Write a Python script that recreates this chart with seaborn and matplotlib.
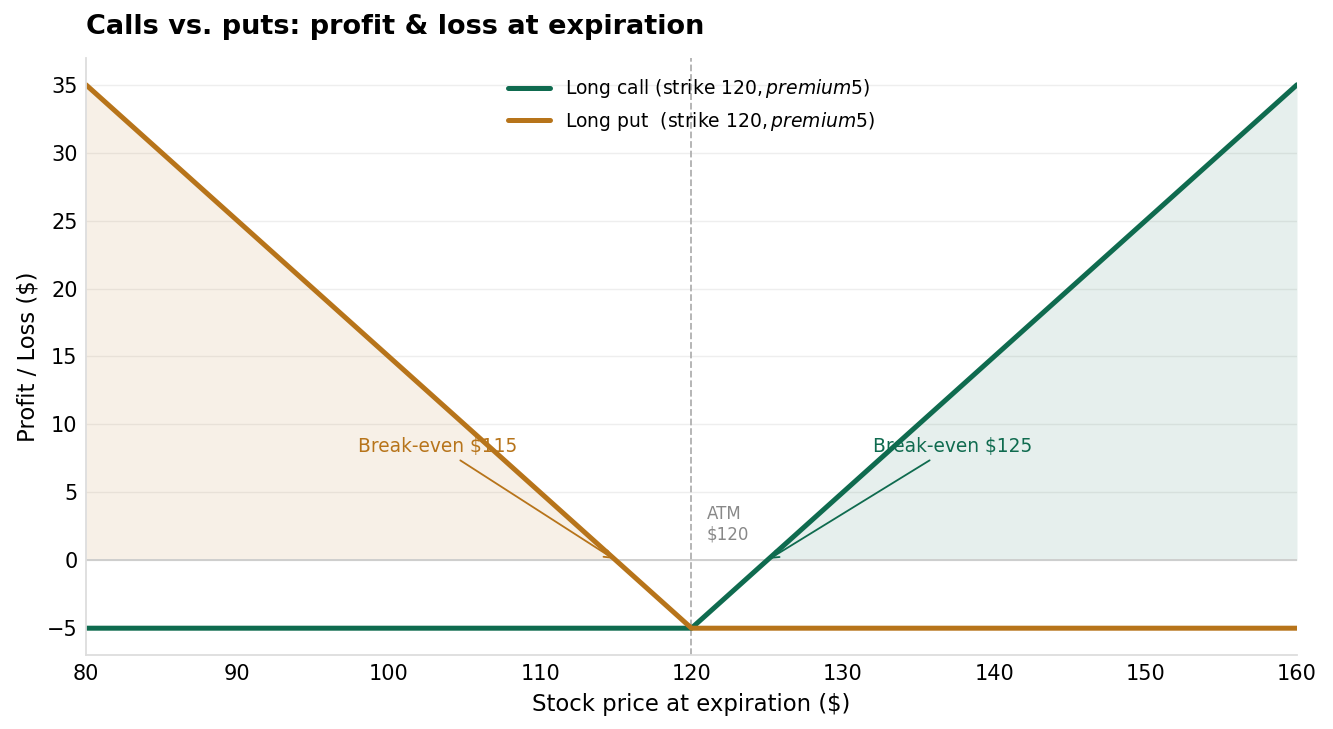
import numpy as np
import pandas as pd
import matplotlib
matplotlib.use("Agg")
import matplotlib.pyplot as plt
import seaborn as sns

# Data
strike = 120
premium = 5
prices = [80, 115, 120, 125, 160]
call_pnl = [-5, -5, -5, 0, 35]
put_pnl = [35, 0, -5, -5, -5]
call_label = "Long call (strike $120, premium $5)"
put_label = "Long put  (strike $120, premium $5)"
xticks = [80, 90, 100, 110, 120, 130, 140, 150, 160]
yticks = [-5, 0, 5, 10, 15, 20, 25, 30, 35]

CALL = "#0f6b4f"
PUT = "#b7741a"

sns.set_theme(style="white")
plt.rcParams['font.family'] = ['DejaVu Sans']
plt.rcParams['text.color'] = 'black'
plt.rcParams['axes.labelcolor'] = 'black'
plt.rcParams['xtick.color'] = 'black'
plt.rcParams['ytick.color'] = 'black'

fig, ax = plt.subplots(figsize=(13.33, 7.29), dpi=100)
fig.subplots_adjust(left=0.0645, right=0.973, top=0.921, bottom=0.101)

df = pd.DataFrame({"price": prices, "call": call_pnl, "put": put_pnl})

ax.grid(axis="y", color="#eeeeee", linewidth=1)
ax.set_axisbelow(True)

x = np.array(prices, dtype=float)
c = np.array(call_pnl, dtype=float)
p = np.array(put_pnl, dtype=float)
ax.fill_between(x, 0, c, where=c >= 0, color=CALL, alpha=0.1, linewidth=0, interpolate=True)
ax.fill_between(x, 0, p, where=p >= 0, color=PUT, alpha=0.1, linewidth=0, interpolate=True)

ax.axhline(0, color="#cccccc", linewidth=1.3, zorder=1)
ax.axvline(strike, color="#b0b0b0", linewidth=1.3, linestyle="--", zorder=1)

sns.lineplot(data=df, x="price", y="call", ax=ax, color=CALL, linewidth=3.6, label=call_label)
sns.lineplot(data=df, x="price", y="put", ax=ax, color=PUT, linewidth=3.6, label=put_label)

ax.annotate("Break-even $115", xy=(115, 0), xytext=(98, 8), color=PUT, fontsize=13.4,
            arrowprops=dict(arrowstyle="->", color=PUT, lw=1.3))
ax.annotate("Break-even $125", xy=(125, 0), xytext=(132, 8), color=CALL, fontsize=13.4,
            arrowprops=dict(arrowstyle="->", color=CALL, lw=1.3))
ax.text(121, 1.2, "ATM\n$120", color="#888888", fontsize=12, va="bottom", ha="left")

ax.set_xlim(80, 160)
ax.set_ylim(-7, 37)
ax.set_xticks(xticks)
ax.set_yticks(yticks)
ax.tick_params(axis="both", labelsize=15, length=0, pad=6)
ax.set_xlabel("Stock price at expiration ($)", fontsize=16.4, labelpad=7)
ax.set_ylabel("Profit / Loss ($)", fontsize=16.4, labelpad=5.5)
ax.set_title("Calls vs. puts: profit & loss at expiration", fontsize=19.5, fontweight="bold",
             loc="left", pad=17)

for s in ["top", "right"]:
    ax.spines[s].set_visible(False)
for s in ["left", "bottom"]:
    ax.spines[s].set_color("#dddddd")
    ax.spines[s].set_linewidth(1.3)

ax.legend(loc="upper center", frameon=False, fontsize=13.5, handlelength=2.2, borderaxespad=0.65)

fig.savefig("out.png", dpi=100)
